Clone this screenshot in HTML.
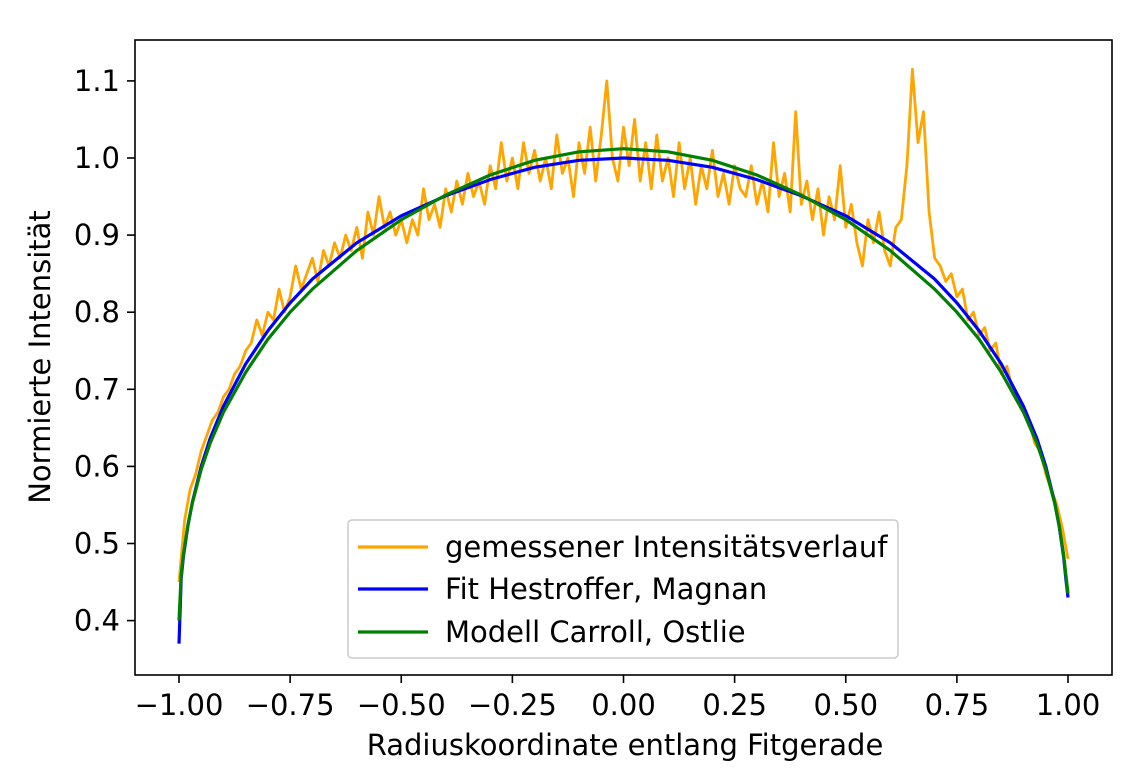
<!DOCTYPE html>
<html><head><meta charset="utf-8">
<style>
html,body{margin:0;padding:0;background:#fff;}
svg{display:block;font-family:"DejaVu Sans","Liberation Sans",sans-serif;}
</style></head>
<body>
<svg id="chart" width="1140" height="772" viewBox="0 0 1140 772" xmlns="http://www.w3.org/2000/svg">
<g id="plot"></g>
</svg>
<script>
// ---- data ----
const xTicks = [-1.00,-0.75,-0.50,-0.25,0.00,0.25,0.50,0.75,1.00];
const xTickLabels = ["\u22121.00","\u22120.75","\u22120.50","\u22120.25","0.00","0.25","0.50","0.75","1.00"];
const yTicks = [0.4,0.5,0.6,0.7,0.8,0.9,1.0,1.1];
const yTickLabels = ["0.4","0.5","0.6","0.7","0.8","0.9","1.0","1.1"];

const fitR = [-1.0,-0.995,-0.99,-0.98,-0.97,-0.95,-0.93,-0.9,-0.85,-0.8,-0.75,-0.7,-0.6,-0.5,-0.4,-0.3,-0.2,-0.1,0,0.1,0.2,0.3,0.4,0.5,0.6,0.7,0.75,0.8,0.85,0.9,0.93,0.95,0.97,0.98,0.99,0.995,1.0];
const hestroffer = [0.37,0.455,0.483,0.523,0.553,0.600,0.636,0.678,0.733,0.776,0.812,0.843,0.890,0.925,0.951,0.972,0.988,0.997,1.000,0.997,0.988,0.972,0.951,0.925,0.890,0.843,0.812,0.776,0.733,0.678,0.636,0.600,0.553,0.523,0.483,0.455,0.43];
const carroll = [0.40,0.460,0.486,0.524,0.552,0.596,0.630,0.670,0.722,0.765,0.800,0.830,0.880,0.920,0.952,0.978,0.997,1.008,1.012,1.008,0.997,0.978,0.952,0.920,0.880,0.830,0.800,0.765,0.722,0.670,0.630,0.596,0.552,0.524,0.486,0.460,0.435];

const measuredStart = -1.0;
const measuredStep = 0.0125;
const measured = [
0.45,0.53,0.57,0.59,0.62,0.64,0.66,0.67,0.69,0.70,0.72,0.73,0.75,0.76,0.79,0.77,0.80,0.79,0.83,0.80,
0.82,0.86,0.83,0.85,0.87,0.84,0.88,0.86,0.89,0.87,0.90,0.88,0.91,0.87,0.93,0.90,0.95,0.91,0.93,0.90,
0.92,0.89,0.92,0.90,0.96,0.92,0.94,0.91,0.96,0.93,0.97,0.94,0.98,0.95,0.97,0.94,0.99,0.96,1.02,0.97,
1.00,0.96,1.02,0.98,1.01,0.97,1.00,0.96,1.03,0.98,1.00,0.95,1.02,0.98,1.04,0.97,1.03,1.10,1.00,0.97,
1.04,0.99,1.05,0.97,1.02,0.96,1.03,0.97,1.00,0.95,1.02,0.96,1.00,0.94,0.99,0.96,1.01,0.95,0.98,0.94,
0.99,0.96,0.95,0.99,0.94,0.97,0.93,1.02,0.95,0.98,0.93,1.06,0.94,0.97,0.92,0.96,0.90,0.95,0.92,0.99,
0.91,0.94,0.89,0.86,0.92,0.89,0.93,0.88,0.86,0.91,0.92,0.99,1.115,1.02,1.06,0.93,0.87,0.86,0.84,0.85,
0.82,0.83,0.79,0.80,0.77,0.78,0.75,0.76,0.72,0.73,0.70,0.69,0.67,0.66,0.63,0.62,0.59,0.57,0.55,0.52,
0.48];

// ---- axes ----
const L=135,R=1112,T=40,B=675;
const xs = v => 623.5 + v*444.5;
const ys = v => 158 - (v-1.0)*771;
const NS="http://www.w3.org/2000/svg";
const plot=document.getElementById('plot');
function mk(tag,attrs,parent){const e=document.createElementNS(NS,tag);for(const k in attrs)e.setAttribute(k,attrs[k]);(parent||plot).appendChild(e);return e;}

xTicks.forEach((v,i)=>{
  const t=mk('line',{x1:xs(v),x2:xs(v),y1:B,y2:B+8,stroke:'#000','stroke-width':1.6});
  
  
  const l=mk('text',{x:xs(v),y:B+40,'text-anchor':'middle','font-size':29,fill:'#000'});
  l.textContent=xTickLabels[i];
  
  
});
yTicks.forEach((v,i)=>{
  const t=mk('line',{x1:L-8,x2:L,y1:ys(v),y2:ys(v),stroke:'#000','stroke-width':1.6});
  
  
  const l=mk('text',{x:L-15,y:ys(v)+10,'text-anchor':'end','font-size':29,fill:'#000'});
  l.textContent=yTickLabels[i];
  
  
});

function pathFrom(xv,yv){return xv.map((x,i)=>(i?'L':'M')+xs(x).toFixed(1)+' '+ys(yv[i]).toFixed(1)).join(' ');}
const measuredX = measured.map((_,i)=>measuredStart+i*measuredStep);
const pm=mk('path',{d:pathFrom(measuredX,measured),fill:'none',stroke:'#ffa500','stroke-width':2.8,'stroke-linejoin':'round'});


const ph=mk('path',{d:pathFrom(fitR,hestroffer),fill:'none',stroke:'#0000ff','stroke-width':3.2});


const pc=mk('path',{d:pathFrom(fitR,carroll),fill:'none',stroke:'#008000','stroke-width':3.2});



const fr=mk('rect',{x:L,y:T,width:R-L,height:B-T,fill:'none',stroke:'#000','stroke-width':1.6});



const xt=mk('text',{x:625,y:755,'text-anchor':'middle','font-size':29,fill:'#000'});
xt.textContent='Radiuskoordinate entlang Fitgerade';


const yt=mk('text',{x:0,y:0,'text-anchor':'middle','font-size':29,fill:'#000',transform:'translate(50,357) rotate(-90)'});
yt.textContent='Normierte Intensität';



const lg=mk('g',{});


mk('rect',{x:348,y:520,width:550,height:138,rx:4,fill:'#fff','fill-opacity':0.8,stroke:'#cccccc','stroke-width':1.5},lg);
const entries=[['gemessener Intensitätsverlauf','#ffa500',547],['Fit Hestroffer, Magnan','#0000ff',589],['Modell Carroll, Ostlie','#008000',632]];
entries.forEach(e=>{
  const g=mk('g',{},lg);
  
  
  mk('line',{x1:358,x2:428,y1:e[2],y2:e[2],stroke:e[1],'stroke-width':3.2},g);
  const t=mk('text',{x:445,y:e[2]+10,'font-size':29,fill:'#000'},g);
  t.textContent=e[0];
});
</script>
</body></html>
